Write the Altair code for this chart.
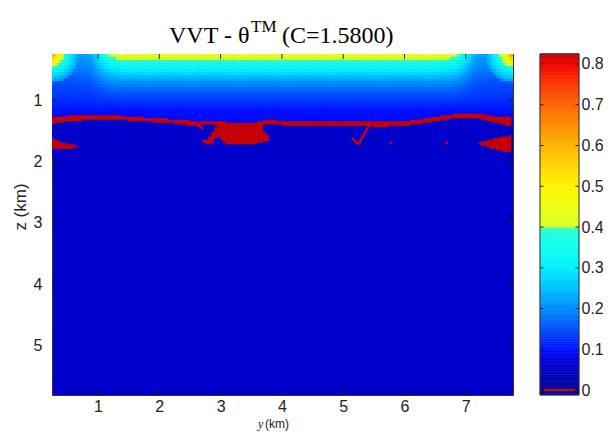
import numpy as np
import pandas as pd
import altair as alt

# ---------------- axes ----------------
y_domain = [0.25, 7.77]
z_domain = [0.25, 5.8]
y_ticks = [1, 2, 3, 4, 5, 6, 7]
z_ticks = [1, 2, 3, 4, 5]
cb_domain = [-0.012, 0.8245]
cb_ticks = [0, 0.1, 0.2, 0.3, 0.4, 0.5, 0.6, 0.7, 0.8]

# ---------------- colormap (value -> colour) ----------------
cmap_v = [-0.05, -0.02, -0.0199, 0.0, 0.03, 0.06, 0.08, 0.10, 0.125, 0.15, 0.175, 0.20,
          0.25, 0.30, 0.35, 0.399, 0.40, 0.45, 0.50, 0.55, 0.60, 0.65, 0.70, 0.75, 0.80, 0.825]
cmap_c = ["#CC0000", "#CC0000", "#000096", "#000096", "#0000B4", "#0000CC", "#0000E4", "#0010FF",
          "#0030FF", "#0050FF", "#0070FF", "#008CFF", "#00C0FF", "#00F0FF", "#10FFEE", "#2AFFD5",
          "#D4FF2A", "#EEFF10", "#FFF500", "#FFD500", "#FFB400", "#FF8C00", "#FF6400", "#FF3800",
          "#F00000", "#CC0000"]

# ---------------- near-surface field ----------------
profile_z = [0.25, 0.30, 0.34, 0.36, 0.45, 0.53, 0.63, 0.74, 0.90, 1.10, 1.20, 1.40, 1.90]
mid_vals = [0.46, 0.44, 0.41, 0.395, 0.35, 0.30, 0.25, 0.20, 0.155, 0.115, 0.10, 0.095, 0.095]
hump_vals = [0.21, 0.205, 0.20, 0.198, 0.19, 0.18, 0.165, 0.15, 0.135, 0.115, 0.10, 0.095, 0.095]
col_y = [0.25, 0.60, 0.90, 1.05, 1.20, 1.40, 1.60, 6.45, 6.65, 6.85, 7.00, 7.15, 7.45, 7.77]
col_w = [0.0, 0.0, 0.1, 0.5, 0.85, 0.97, 1.0, 1.0, 0.97, 0.85, 0.5, 0.1, 0.0, 0.0]
corner_y = [0.25, 7.77]
corner_d = [0.0, 0.05, 0.10, 0.20, 0.21, 0.32, 0.45, 0.55]
corner_v = [0.65, 0.58, 0.50, 0.41, 0.385, 0.30, 0.22, 0.0]
deep_val = 0.06
red_val = -0.05

# ---------------- red front ----------------
band_y = [0.25, 0.5, 0.75, 1.0, 1.25, 1.5, 1.75, 2.0, 2.25, 2.5, 2.75, 3.0, 3.25, 3.5, 3.75,
          4.0, 4.25, 4.5, 4.75, 5.0, 5.25, 5.5, 5.75, 6.0, 6.25, 6.5, 6.75, 7.0, 7.25, 7.5, 7.75]
band_top = [1.28, 1.27, 1.26, 1.25, 1.255, 1.28, 1.295, 1.31, 1.327, 1.348, 1.348, 1.36, 1.386,
            1.392, 1.337, 1.348, 1.348, 1.348, 1.359, 1.359, 1.359, 1.359, 1.359, 1.359, 1.327,
            1.283, 1.25, 1.223, 1.24, 1.283, 1.29]
band_bot = [1.39, 1.34, 1.33, 1.31, 1.31, 1.33, 1.345, 1.36, 1.376, 1.414, 1.392, 1.414, 1.43,
            1.435, 1.392, 1.403, 1.414, 1.403, 1.414, 1.414, 1.414, 1.43, 1.43, 1.414, 1.392,
            1.348, 1.305, 1.278, 1.305, 1.37, 1.42]
blob_y = [2.77, 2.86, 2.94, 3.00, 3.08, 3.27, 3.54, 3.64, 3.71, 3.81]
blob_top = [1.66, 1.57, 1.43, 1.40, 1.39, 1.39, 1.39, 1.38, 1.51, 1.61]
blob_bot = [1.71, 1.71, 1.59, 1.60, 1.71, 1.71, 1.71, 1.70, 1.67, 1.66]
lw_y = [0.25, 0.41, 0.57, 0.68]
lw_top = [1.62, 1.70, 1.73, 1.755]
lw_bot = [1.80, 1.80, 1.79, 1.765]
rw_y = [7.22, 7.40, 7.55, 7.77]
rw_top = [1.70, 1.66, 1.62, 1.58]
rw_bot = [1.715, 1.78, 1.82, 1.85]
loop_seg = ["a", "a", "a", "b", "b", "c", "c", "c"]
loop_y = [2.62, 2.68, 2.72, 5.14, 5.25, 5.46, 5.36, 5.25]
loop_z = [1.40, 1.44, 1.47, 1.62, 1.72, 1.36, 1.52, 1.72]
dot_y = [2.72, 5.77, 6.69]
dot_z = [1.67, 1.70, 1.70]

# ---------------- raster of the field ----------------
shapes = [(band_y, band_top, band_bot), (blob_y, blob_top, blob_bot),
          (lw_y, lw_top, lw_bot), (rw_y, rw_top, rw_bot)]
y_edges = np.round(np.arange(0.25, 7.80, 0.05), 4)
z_edges = np.round(np.concatenate([np.arange(0.25, 1.10, 0.05), np.arange(1.10, 1.90001, 0.025)]), 4)
rows = []
for y0 in y_edges:
    y1 = y0 + 0.05
    yc = y0 + 0.025
    w = np.interp(yc, col_y, col_w)
    bbot = np.interp(yc, band_y, band_bot)
    for i in range(len(z_edges) - 1):
        z0, z1 = z_edges[i], z_edges[i + 1]
        zc = 0.5 * (z0 + z1)
        red = False
        for sy, st, sb in shapes:
            if sy[0] <= yc <= sy[-1]:
                top, bot = np.interp(yc, sy, st), np.interp(yc, sy, sb)
                if z0 < bot - 0.004 and z1 > top + 0.004:
                    red = True
        if red:
            v = red_val
        elif zc > bbot:
            v = deep_val
        else:
            base = w * np.interp(zc, profile_z, mid_vals) + (1 - w) * np.interp(zc, profile_z, hump_vals)
            d = min(np.hypot(yc - cy, zc - z_domain[0]) for cy in corner_y)
            v = max(base, float(np.interp(d, corner_d, corner_v)))
        rows.append({"y0": y0, "y1": y1, "z0": z0, "z1": z1, "v": round(float(v), 4)})
cells = pd.DataFrame(rows)

xs = alt.Scale(domain=y_domain, nice=False, zero=False)
zs = alt.Scale(domain=z_domain, nice=False, zero=False, reverse=True)
cs = alt.Scale(domain=cmap_v, range=cmap_c, interpolate="rgb", clamp=True)

lab = dict(labelFont="Liberation Sans", labelFontSize=16, labelColor="#222", ticks=False,
           domain=False, grid=False, title=None)
x_axis = alt.Axis(values=y_ticks, format="d", labelPadding=3, **lab)
z_axis = alt.Axis(values=z_ticks, format="d", labelPadding=10, orient="left", **lab)

heat = alt.Chart(cells).mark_rect(clip=True, strokeWidth=0.6).encode(
    x=alt.X("y0:Q", scale=xs, axis=x_axis), x2="y1:Q",
    y=alt.Y("z0:Q", scale=zs, axis=z_axis), y2="z1:Q",
    color=alt.Color("v:Q", scale=cs, legend=None),
    stroke=alt.Stroke("v:Q", scale=cs, legend=None),
)

loops = alt.Chart(pd.DataFrame({"seg": loop_seg, "y": loop_y, "z": loop_z,
                                "k": list(range(len(loop_y)))})).mark_line(
    color="#CC0000", strokeWidth=2.5, clip=True).encode(
    x=alt.X("y:Q", scale=xs), y=alt.Y("z:Q", scale=zs), detail="seg:N", order="k:Q")

dots = alt.Chart(pd.DataFrame({"y": dot_y, "z": dot_z})).mark_square(
    color="#CC0000", size=7, opacity=1).encode(x=alt.X("y:Q", scale=xs), y=alt.Y("z:Q", scale=zs))

tick_len = 0.081
vt = pd.DataFrame({"x": y_ticks * 2,
                   "a": [z_domain[1]] * 7 + [z_domain[0]] * 7,
                   "b": [z_domain[1] - tick_len] * 7 + [z_domain[0] + tick_len] * 7})
ht = pd.DataFrame({"z": z_ticks * 2,
                   "a": [y_domain[0]] * 5 + [y_domain[1]] * 5,
                   "b": [y_domain[0] + tick_len] * 5 + [y_domain[1] - tick_len] * 5})
vticks = alt.Chart(vt).mark_rule(color="#222", strokeWidth=1).encode(
    x=alt.X("x:Q", scale=xs), y=alt.Y("a:Q", scale=zs), y2="b:Q")
hticks = alt.Chart(ht).mark_rule(color="#222", strokeWidth=1).encode(
    y=alt.Y("z:Q", scale=zs), x=alt.X("a:Q", scale=xs), x2="b:Q")


def label(text, x, y, **kw):
    return alt.Chart(pd.DataFrame({"t": [text]})).mark_text(**kw).encode(
        x=alt.value(x), y=alt.value(y), text="t:N")


serif = "Liberation Serif"
title1 = label("VVT - \u03b8", 117, -18, font=serif, fontSize=24, align="left", color="#000")
title2 = label("TM", 199, -27, font=serif, fontSize=17, align="left", color="#000")
title3 = label("(C=1.5800)", 230, -18, font=serif, fontSize=24, align="left", color="#000")
xt1 = label("y", 206, 370, font=serif, fontSize=12, fontStyle="italic", align="left", color="#222")
xt2 = label("(km)", 213, 370, font="Liberation Sans", fontSize=12, align="left", color="#222")
zt = label("z (km)", -31, 153, font="Liberation Sans", fontSize=17, align="center",
           baseline="middle", angle=270, color="#222")

main = alt.layer(heat, loops, dots, vticks, hticks, title1, title2, title3, xt1, xt2, zt)

# ---------------- colour bar ----------------
cb_edges = np.round(np.arange(cb_domain[0], cb_domain[1] + 0.0045, 0.0045), 5)
cb = pd.DataFrame({"x0": 0.0, "x1": 1.0, "v0": cb_edges[:-1], "v1": cb_edges[1:],
                   "vc": (cb_edges[:-1] + cb_edges[1:]) / 2})
cbx = alt.Scale(domain=[0, 1], range=[488, 527])
cby = alt.Scale(domain=cb_domain, nice=False, zero=False)
cb_axis = alt.Axis(orient="right", offset=66, values=cb_ticks, format=".1~f", labelPadding=2, **lab)
cb_rect = alt.Chart(cb).mark_rect(strokeWidth=0.6).encode(
    x=alt.X("x0:Q", scale=cbx, axis=None), x2="x1:Q",
    y=alt.Y("v0:Q", scale=cby, axis=cb_axis), y2="v1:Q",
    color=alt.Color("vc:Q", scale=cs, legend=None),
    stroke=alt.Stroke("vc:Q", scale=cs, legend=None))
cbt = pd.DataFrame({"v": cb_ticks * 2, "a": [0.0] * 9 + [1.0] * 9, "b": [0.09] * 9 + [0.91] * 9})
cb_tk = alt.Chart(cbt).mark_rule(color="#222", strokeWidth=1).encode(
    y=alt.Y("v:Q", scale=cby), x=alt.X("a:Q", scale=cbx), x2="b:Q")
cb_zero = alt.Chart(pd.DataFrame({"v": [0.0], "a": [0.1], "b": [0.9]})).mark_rule(
    color="#E00000", strokeWidth=2).encode(
    y=alt.Y("v:Q", scale=cby), x=alt.X("a:Q", scale=cbx), x2="b:Q")
cb_frame = alt.Chart(pd.DataFrame({"x0": [0.0], "x1": [1.0], "v0": [cb_domain[0]], "v1": [cb_domain[1]]})).mark_rect(
    fillOpacity=0, stroke="#333", strokeWidth=1).encode(
    x=alt.X("x0:Q", scale=cbx), x2="x1:Q", y=alt.Y("v0:Q", scale=cby), y2="v1:Q")
cbar = alt.layer(cb_rect, cb_tk, cb_zero, cb_frame)

chart = alt.layer(main, cbar).resolve_scale(x="independent", y="independent").properties(
    width=461, height=341,
    autosize=alt.AutoSizeParams(type="none"),
    padding={"left": 44, "top": 46, "right": 90, "bottom": 36},
    background="white",
).configure_view(stroke="#333", strokeWidth=1, fill="#0000CC")

chart.save("out.html", embed_options={"renderer": "svg", "actions": False})
